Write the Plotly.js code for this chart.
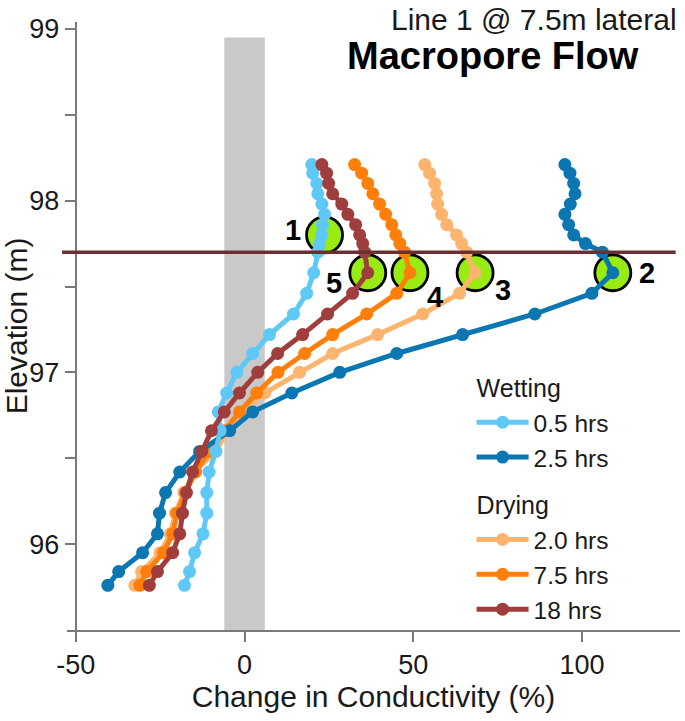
<!DOCTYPE html>
<html>
<head>
<meta charset="utf-8">
<script src="https://cdn.plot.ly/plotly-3.0.1.min.js"></script>
<style>html,body{margin:0;padding:0;background:#fff;}#chart{width:685px;height:721px;}</style>
</head>
<body>
<div id="chart"></div>
<script>
// Elevation (m) of each measurement layer (shared by every series)
const elevation = [98.21, 98.16, 98.10, 98.04, 97.98, 97.92, 97.86, 97.80, 97.75, 97.70,
  97.58, 97.46, 97.34, 97.22, 97.11, 97.00, 96.88, 96.77, 96.66, 96.54,
  96.42, 96.30, 96.18, 96.06, 95.95, 95.84, 95.76];

// Change in conductivity (%)
const wet05 = [19.9, 20.2, 21.4, 21.7, 22.9, 23.7, 23.1, 22.9, 22.3, 21.7,
  20.5, 18.4, 14.5, 7.4, 2.4, -2.3, -5.3, -7.8, -7.2, -8.5,
  -10.5, -11.2, -11.2, -12.3, -14.8, -16.3, -17.8];
const wet25 = [94.9, 96.4, 97.5, 97.9, 96.5, 94.9, 96.0, 97.5, 101.0, 106.0,
  109.1, 102.9, 86.0, 64.6, 45.1, 28.2, 14.0, 2.4, -4.4, -13.3,
  -19.2, -23.4, -25.2, -25.8, -30.2, -37.3, -40.5];
const dry20 = [53.4, 54.8, 56.3, 56.9, 57.2, 58.4, 59.9, 62.8, 64.3, 65.8,
  68.3, 63.7, 52.8, 39.4, 26.1, 16.3, 6.0, -0.5, -5.0, -8.5,
  -15.0, -18.0, -20.5, -22.0, -25.0, -30.5, -32.5];
const dry75 = [32.6, 34.7, 36.5, 38.0, 40.0, 41.8, 43.6, 44.8, 46.0, 47.4,
  49.0, 45.1, 36.2, 26.1, 17.8, 9.9, 3.6, -1.5, -6.0, -10.5,
  -14.5, -17.5, -20.0, -21.3, -24.0, -29.0, -31.0];
const dry18 = [22.9, 24.3, 24.9, 26.1, 28.8, 30.6, 32.9, 34.1, 35.0, 35.6,
  36.5, 32.0, 24.6, 17.2, 9.8, 3.9, -1.5, -6.0, -9.8, -12.7,
  -15.4, -17.2, -18.4, -19.2, -21.3, -25.8, -28.2];

const seriesNames = ['0.5 hrs', '2.5 hrs', '2.0 hrs', '7.5 hrs', '18 hrs'];
const seriesGroups = ['Wetting', 'Wetting', 'Drying', 'Drying', 'Drying'];

// Highlighted points (macropore flow markers)
const circleLabels = ['1', '2', '3', '4', '5'];
const circleX = [23.7, 109.1, 68.3, 49.0, 36.5];
const circleY = [97.80, 97.58, 97.58, 97.58, 97.58];

// Reference elevation line and noise band
const refElevation = 97.70;
const bandLow = -6, bandHigh = 6, bandTop = 98.95;

const xTicks = [-50, 0, 50, 100];
const xTickText = ['-50', '0', '50', '100'];
const yTicks = [96, 97, 98, 99];
const yMinorTicks = [96.5, 97.5, 98.5];

const colors = ['#5ec8f7', '#0a76b2', '#fdb46e', '#ff7f0a', '#a03d3d'];
const FONT = 'Liberation Sans, Arial, sans-serif';
const xRange = [-52.6, 129];
const yRange = [95.5, 99.04];

const seriesData = [wet05, wet25, dry20, dry75, dry18];
const drawOrder = [2, 3, 1, 0, 4];

const traces = [];
traces.push({
  type: 'scatter', mode: 'markers', x: circleX, y: circleY, showlegend: false, hoverinfo: 'skip',
  marker: {size: 36, color: '#98ec12', line: {color: '#000', width: 2.8}}
});
drawOrder.forEach(i => {
  traces.push({
    type: 'scatter', mode: 'lines+markers', name: seriesNames[i],
    x: seriesData[i], y: elevation,
    legendgroup: seriesGroups[i], legendrank: i + 1,
    legendgrouptitle: {text: seriesGroups[i], font: {family: FONT, size: 25, color: '#1a1a1a'}},
    line: {color: colors[i], width: 5},
    marker: {color: colors[i], size: 13}
  });
});

const annotations = [
  {text: 'Line 1 @ 7.5m lateral', xref: 'paper', yref: 'paper', x: 0.998, y: 1.035, xanchor: 'right', yanchor: 'top',
   showarrow: false, font: {family: FONT, size: 30, color: '#1a1a1a'}},
  {text: '<b>Macropore Flow</b>', xref: 'paper', yref: 'paper', x: 0.695, y: 0.982, xanchor: 'center', yanchor: 'top',
   showarrow: false, font: {family: FONT, size: 38, color: '#000'}}
];
const labelShift = [[-32, 5], [34, 0], [28, -17], [25, -24], [-34, -10]];
circleLabels.forEach((t, i) => {
  annotations.push({text: '<b>' + t + '</b>', x: circleX[i], y: circleY[i], xref: 'x', yref: 'y',
    xshift: labelShift[i][0], yshift: labelShift[i][1], showarrow: false,
    font: {family: FONT, size: 29, color: '#000'}});
});

const refYPaper = (refElevation - yRange[0]) / (yRange[1] - yRange[0]);
const shapes = [
  {type: 'rect', xref: 'x', yref: 'y', x0: bandLow, x1: bandHigh, y0: yRange[0], y1: bandTop,
   fillcolor: '#c9c9c9', line: {width: 0}, layer: 'below'},
  {type: 'line', xref: 'paper', yref: 'paper', x0: -0.008, x1: 0.993, y0: refYPaper, y1: refYPaper,
   line: {color: '#6b2f2f', width: 3.5}, layer: 'above'}
];

const layout = {
  width: 685, height: 721,
  margin: {l: 67, r: 5, t: 22, b: 91},
  paper_bgcolor: '#fff', plot_bgcolor: '#fff',
  font: {family: FONT, color: '#1a1a1a'},
  xaxis: {
    range: xRange, tickvals: xTicks, ticktext: xTickText, ticks: 'outside', ticklen: 10, tickwidth: 2, tickcolor: '#7a7a7a',
    showline: true, linecolor: '#7a7a7a', linewidth: 2, showgrid: false, zeroline: false,
    tickfont: {family: FONT, size: 27, color: '#1a1a1a'},
    title: {text: 'Change in Conductivity (%)', font: {family: FONT, size: 30, color: '#1a1a1a'}, standoff: 6}
  },
  yaxis: {
    range: yRange, tickvals: yTicks, ticks: 'outside', ticklen: 10, tickwidth: 2, tickcolor: '#7a7a7a',
    anchor: 'free', position: (-50 - xRange[0]) / (xRange[1] - xRange[0]),
    showline: true, linecolor: '#7a7a7a', linewidth: 2, showgrid: false, zeroline: false,
    minor: {tickvals: yMinorTicks, ticks: 'outside', ticklen: 10, tickwidth: 2, tickcolor: '#7a7a7a', showgrid: false},
    tickfont: {family: FONT, size: 27, color: '#1a1a1a'},
    title: {text: 'Elevation (m)', font: {family: FONT, size: 30, color: '#1a1a1a'}, standoff: 4}
  },
  legend: {
    x: 0.66, y: 0.437, xanchor: 'left', yanchor: 'top', bgcolor: 'rgba(0,0,0,0)',
    font: {family: FONT, size: 24.5, color: '#1a1a1a'}, traceorder: 'grouped', tracegroupgap: 12,
    itemwidth: 52
  },
  shapes: shapes,
  annotations: annotations,
  showlegend: true
};

Plotly.newPlot('chart', traces, layout, {displayModeBar: false, staticPlot: true});
</script>
</body>
</html>
